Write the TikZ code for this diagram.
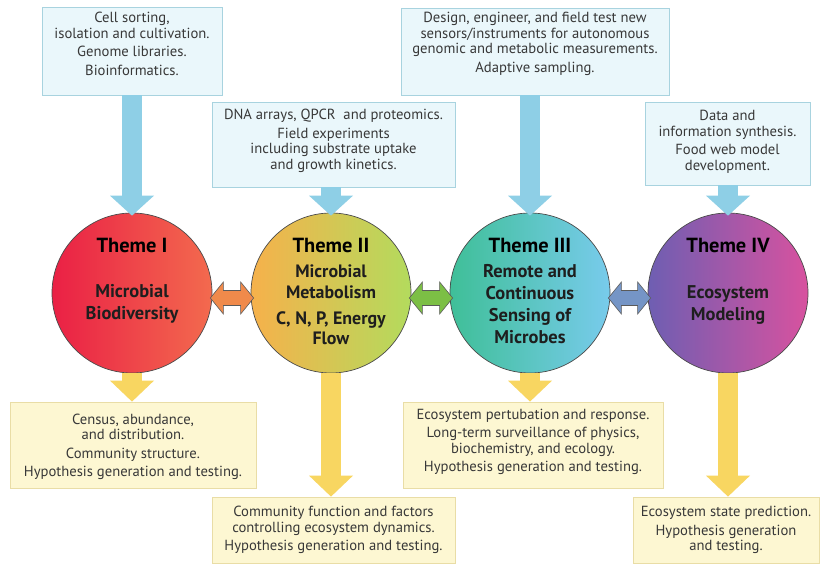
\documentclass[tikz,border=0pt]{standalone}
\usepackage{fontspec}
\setmainfont{PT Sans}
\usetikzlibrary{arrows.meta,calc}
\definecolor{boxblue}{HTML}{EAF7FB}
\definecolor{boxblueedge}{HTML}{A8D3DF}
\definecolor{boxyell}{HTML}{FDF7D2}
\definecolor{boxyelledge}{HTML}{E9DDA6}
\definecolor{arrblue}{HTML}{8ECFE6}
\definecolor{arryell}{HTML}{F8D661}
\definecolor{txtgray}{HTML}{383838}
\definecolor{bodytxt}{HTML}{1E1E1E}
\definecolor{circedge}{HTML}{4A4A4A}
\definecolor{arredge}{HTML}{5A5A5A}
\definecolor{dblorange}{HTML}{F08A4B}
\definecolor{dblgreen}{HTML}{7CBF45}
\definecolor{dblblue}{HTML}{7595C6}
\definecolor{redL}{HTML}{EA2045}
\definecolor{redR}{HTML}{F36A4E}
\definecolor{yelL}{HTML}{F6B14B}
\definecolor{yelM}{HTML}{F6EC5C}
\definecolor{yelR}{HTML}{B3DB5D}
\definecolor{cyaL}{HTML}{3FBF98}
\definecolor{cyaM}{HTML}{5EC6C8}
\definecolor{cyaR}{HTML}{78CBEC}
\definecolor{purL}{HTML}{6E5EB2}
\definecolor{purM}{HTML}{9A57AA}
\definecolor{purR}{HTML}{D8529F}
\begin{document}
\begin{tikzpicture}[x=1bp,y=-1bp,
  topbox/.style={draw=boxblueedge, fill=boxblue, line width=0.8bp, inner sep=0pt},
  botbox/.style={draw=boxyelledge, fill=boxyell, line width=0.8bp, inner sep=0pt},
  boxtext/.style={text=txtgray, font=\fontsize{14.7}{15.6}\selectfont, align=center, inner sep=0pt},
  theme/.style={circle, draw=circedge, line width=0.7bp, minimum size=160bp, inner sep=0pt},
  ttl/.style={font=\fontsize{20.5}{22}\selectfont\bfseries, text=black, inner sep=0pt},
  body/.style={font=\fontsize{18.5}{22}\selectfont\bfseries, align=center, text=bodytxt, inner sep=0pt},
  downblue/.style={draw=arrblue, line width=20bp, -{Triangle[width=44bp,length=20bp,line width=0pt]}},
  downyell/.style={draw=arryell, line width=20bp, -{Triangle[width=44bp,length=21bp,line width=0pt]}},
  dbl/.style={draw=arredge, line width=0.6bp, line join=miter}
]
\useasboundingbox[fill=white] (0,0) rectangle (820,566);

% circles
\node[theme, left color=redL, right color=redR] (c1) at (132,293) {};
\node[theme, left color=yelL, middle color=yelM, right color=yelR] (c2) at (331,293) {};
\node[theme, left color=cyaL, middle color=cyaM, right color=cyaR] (c3) at (530,293) {};
\node[theme, left color=purL, middle color=purM, right color=purR] (c4) at (728,293) {};

\node[ttl] (t1) at (132,245) {Theme I};
\node[ttl] (t2) at (331,245) {Theme II};
\node[ttl] (t3) at (530,245) {Theme III};
\node[ttl] (t4) at (728,245) {Theme IV};

\node[body] (d1) at (132,304) {Microbial\\Biodiversity};
\node[body, font=\fontsize{18}{20.5}\selectfont\bfseries] (d2) at (331,305) {Microbial\\Metabolism\\[6bp]C, N, P, Energy\\Flow};
\node[body] (d3) at (530,304) {Remote and\\Continuous\\Sensing of\\Microbes};
\node[body] (d4) at (728,305) {Ecosystem\\Modeling};

% top boxes
\node[topbox, minimum width=180bp, minimum height=88bp] (b1) at (132,51) {};
\node[boxtext] (b1t) at (132,44) {Cell sorting,\\isolation and cultivation.\\[3bp]Genome libraries.\\[3bp]Bioinformatics.};
\node[topbox, minimum width=243bp, minimum height=85bp] (b2) at (333.5,144.5) {};
\node[boxtext] (b2t) at (333.5,141) {DNA arrays, QPCR\ \ and proteomics.\\[3bp]Field experiments\\including substrate uptake\\and growth kinetics.};
\node[topbox, minimum width=268bp, minimum height=87bp] (b3) at (535,51.5) {};
\node[boxtext] (b3t) at (535,44) {Design, engineer, and field test new\\sensors/instruments for autonomous\\genomic and metabolic measurements.\\[3bp]Adaptive sampling.};
\node[topbox, minimum width=165bp, minimum height=83bp] (b4) at (727.5,143.5) {};
\node[boxtext] (b4t) at (727.5,142) {Data and\\information synthesis.\\[3bp]Food web model\\development.};

% bottom boxes
\node[botbox, minimum width=246bp, minimum height=86bp] (b5) at (133,445) {};
\node[boxtext] (b5t) at (133,447) {Census, abundance,\\and distribution.\\[3bp]Community structure.\\[3bp]Hypothesis generation and testing.};
\node[botbox, minimum width=243bp, minimum height=66bp] (b6) at (333.5,530) {};
\node[boxtext] (b6t) at (333.5,530) {Community function and factors\\controlling ecosystem dynamics.\\[3bp]Hypothesis generation and testing.};
\node[botbox, minimum width=260bp, minimum height=86bp] (b7) at (533,445) {};
\node[boxtext] (b7t) at (533,442) {Ecosystem pertubation and response.\\[3bp]Long-term surveillance of physics,\\biochemistry, and ecology.\\[3bp]Hypothesis generation and testing.};
\node[botbox, minimum width=186bp, minimum height=66bp] (b8) at (726,530) {};
\node[boxtext] (b8t) at (726,530) {Ecosystem state prediction.\\[3bp]Hypothesis generation\\and testing.};

% blue arrows into the themes
\draw[downblue] (b1.south -| c1.north) -- ([yshift=-3bp]c1.north);
\draw[downblue] (b2.south -| c2.north) -- ([yshift=-3bp]c2.north);
\draw[downblue] (b3.south -| c3.north) -- ([yshift=-3bp]c3.north);
\draw[downblue] (b4.south -| c4.north) -- ([yshift=-3bp]c4.north);

% yellow arrows out of the themes
\draw[downyell] (c1.south) -- (c1.south |- b5.north);
\draw[downyell] (c2.south) -- (c2.south |- b6.north);
\draw[downyell] (c3.south) -- (c3.south |- b7.north);
\draw[downyell] (c4.south) -- (c4.south |- b8.north);

% double arrows between themes
\foreach \a/\b/\col in {c1/c2/dblorange, c2/c3/dblgreen, c3/c4/dblblue}{
  \coordinate (L) at ($(\a.east)+(-2,5)$);
  \coordinate (R) at ($(\b.west)+(3,5)$);
  \filldraw[dbl, fill=\col] (L) -- ($(L)+(13,-16)$) -- ($(L)+(13,-7.5)$) -- ($(R)+(-13,-7.5)$) -- ($(R)+(-13,-16)$) -- (R)
    -- ($(R)+(-13,16)$) -- ($(R)+(-13,7.5)$) -- ($(L)+(13,7.5)$) -- ($(L)+(13,16)$) -- cycle;
}
\end{tikzpicture}
\end{document}
